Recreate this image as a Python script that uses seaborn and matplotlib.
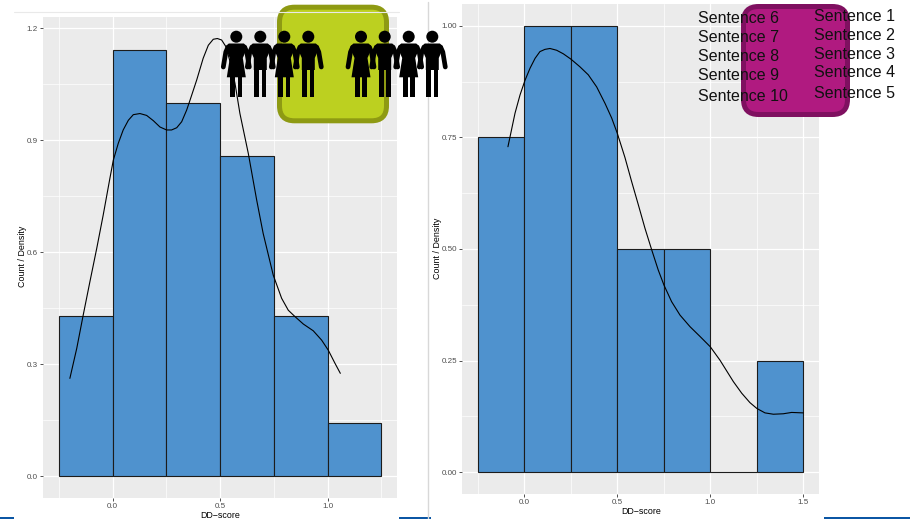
import matplotlib
matplotlib.use("Agg")
import matplotlib.pyplot as plt
from matplotlib.patches import Circle, FancyBboxPatch, Polygon, Rectangle
from matplotlib.ticker import MultipleLocator
import seaborn as sns

W, H = 910, 519

# left panel
left_edges = [-0.25, 0.0, 0.25, 0.5, 0.75, 1.0, 1.25]
left_heights = [0.4286, 1.1429, 1.0, 0.8571, 0.4286, 0.1429]
left_curve_x = [-0.199, -0.167, -0.137, -0.106, -0.074, -0.044, -0.013, 0.003, 0.026, 0.049, 0.073,
                0.096, 0.127, 0.158, 0.189, 0.220, 0.251, 0.274, 0.298, 0.321, 0.344, 0.360, 0.391,
                0.421, 0.445, 0.468, 0.487, 0.507, 0.527, 0.548, 0.569, 0.592, 0.631, 0.670, 0.700,
                0.747, 0.786, 0.817, 0.848, 0.887, 0.933, 0.972, 1.003, 1.034, 1.059]
left_curve_y = [0.2625, 0.343, 0.432, 0.521, 0.611, 0.700, 0.798, 0.847, 0.892, 0.928, 0.954,
                0.969, 0.972, 0.967, 0.953, 0.936, 0.928, 0.928, 0.934, 0.950, 0.981, 1.008, 1.062,
                1.120, 1.155, 1.171, 1.173, 1.169, 1.151, 1.107, 1.053, 0.972, 0.865, 0.740, 0.651,
                0.539, 0.477, 0.445, 0.428, 0.408, 0.390, 0.365, 0.338, 0.303, 0.276]

# right panel
right_edges = [-0.25, 0.0, 0.25, 0.5, 0.75, 1.0, 1.25, 1.5]
right_heights = [0.75, 1.0, 1.0, 0.5, 0.5, 0.0, 0.25]
right_curve_x = [-0.088, -0.050, -0.023, 0.004, 0.031, 0.058, 0.084, 0.111, 0.138, 0.174, 0.210,
                 0.251, 0.299, 0.344, 0.389, 0.434, 0.470, 0.500, 0.541, 0.577, 0.613, 0.649, 0.685,
                 0.720, 0.751, 0.792, 0.837, 0.891, 0.945, 1.0, 1.052, 1.079, 1.124, 1.169, 1.213,
                 1.25, 1.294, 1.339, 1.392, 1.437, 1.5]
right_curve_y = [0.729, 0.804, 0.845, 0.878, 0.905, 0.927, 0.942, 0.947, 0.949, 0.945, 0.937,
                 0.925, 0.908, 0.890, 0.863, 0.826, 0.793, 0.759, 0.705, 0.651, 0.599, 0.546, 0.498,
                 0.453, 0.419, 0.382, 0.352, 0.326, 0.304, 0.281, 0.251, 0.233, 0.203, 0.177, 0.156,
                 0.143, 0.133, 0.130, 0.131, 0.134, 0.133]

sentences_right_col = ["Sentence 1", "Sentence 2", "Sentence 3", "Sentence 4", "Sentence 5"]
sentences_left_col = ["Sentence 6", "Sentence 7", "Sentence 8", "Sentence 9", "Sentence 10"]
sentences_right_y = [16.7, 35.7, 54.3, 72.7, 93.7]
sentences_left_y = [18.3, 37.7, 56.7, 75.3, 96.7]

people_x = [236.3, 260.3, 284.3, 308.3, 361, 384.7, 408.7, 432.3]

sns.set_theme(style="darkgrid", rc={"axes.facecolor": "#EBEBEB", "grid.color": "white"})
plt.rcParams["font.family"] = ["Liberation Sans", "DejaVu Sans"]

fig = plt.figure(figsize=(W / 100, H / 100), dpi=100, facecolor="white")


def panel(box):
    x0, y0, x1, y1 = box
    return fig.add_axes([x0 / W, 1 - y1 / H, (x1 - x0) / W, (y1 - y0) / H])


def draw_hist(ax, edges, heights, cx, cy, xlim, ylim, yticks, ylabels, minor):
    centers = [(a + b) / 2 for a, b in zip(edges[:-1], edges[1:])]
    sns.histplot(x=centers, weights=heights, bins=edges, ax=ax, color="#4F92CE",
                 edgecolor="#1c1c1c", linewidth=0.8, alpha=1)
    sns.lineplot(x=cx, y=cy, ax=ax, color="black", linewidth=0.8, sort=False, estimator=None)
    ax.set_xlim(*xlim)
    ax.set_ylim(*ylim)
    ax.set_yticks(yticks)
    ax.set_yticklabels(ylabels)
    ax.xaxis.set_minor_locator(MultipleLocator(0.25))
    ax.yaxis.set_minor_locator(MultipleLocator(minor))
    ax.set_axisbelow(True)
    ax.grid(True, which="major", color="white", linewidth=0.9)
    ax.grid(True, which="minor", color="white", linewidth=0.5)
    ax.tick_params(which="major", length=2, width=0.6, color="#333333", labelsize=5.8,
                   labelcolor="#4D4D4D", pad=1.5, bottom=True, left=True)
    ax.tick_params(which="minor", length=0)
    for s in ax.spines.values():
        s.set_visible(False)
    ax.set_xlabel("")
    ax.set_ylabel("")


ax1 = panel((43, 16.5, 397.3, 498))
draw_hist(ax1, left_edges, left_heights, left_curve_x, left_curve_y,
          (-0.324, 1.324), (-0.058, 1.232), [0, 0.3, 0.6, 0.9, 1.2],
          ["0.0", "0.3", "0.6", "0.9", "1.2"], 0.15)
ax1.set_xticks([0, 0.5, 1.0])
ax1.set_xticklabels(["0.0", "0.5", "1.0"])

ax2 = panel((462, 4, 819.3, 494.3))
draw_hist(ax2, right_edges, right_heights, right_curve_x, right_curve_y,
          (-0.335, 1.586), (-0.0493, 1.0486), [0, 0.25, 0.5, 0.75, 1.0],
          ["0.00", "0.25", "0.50", "0.75", "1.00"], 0.125)
ax2.set_xticks([0, 0.5, 1.0, 1.5])
ax2.set_xticklabels(["0.0", "0.5", "1.0", "1.5"])

# overlay in pixel coordinates for the slide decorations
ov = fig.add_axes([0, 0, 1, 1], facecolor="none")
ov.set_xlim(0, W)
ov.set_ylim(H, 0)
ov.axis("off")

ov.plot([14, 399], [12.3, 12.3], color="#E9E9E9", lw=0.8)
ov.plot([428, 428], [2, H], color="#D8D8D8", lw=1)
for a, b in [(0, 14), (399, 431), (824, 910)]:
    ov.add_patch(Rectangle((a, 516.7), b - a, 2.3, color="#0B56A4", lw=0))

# axis titles
ov.text(22.5, 256.5, "Count / Density", rotation=90, ha="center", va="center", fontsize=6.4, color="black")
ov.text(220, 515, "DD\u2212score", ha="center", va="center", fontsize=6.4, color="black")
ov.text(437.5, 248.5, "Count / Density", rotation=90, ha="center", va="center", fontsize=6.4, color="black")
ov.text(640.7, 511.7, "DD\u2212score", ha="center", va="center", fontsize=6.4, color="black")

# rounded boxes
ov.add_patch(FancyBboxPatch((279.5, 7.2), 107, 113.6, boxstyle="round,pad=0,rounding_size=15",
                            facecolor="#BCD020", edgecolor="#8E9A13", linewidth=3.6))
ov.add_patch(FancyBboxPatch((743.5, 6.5), 104, 108, boxstyle="round,pad=0,rounding_size=15",
                            facecolor="#B01A80", edgecolor="#7F1060", linewidth=3.6))


def person(cx, female):
    ov.add_patch(Circle((cx, 36.7), 6, color="black", lw=0, zorder=5))
    for side in (-1, 1):
        ov.plot([cx + side * 8.5, cx + side * 10.5, cx + side * 13], [47.5, 52, 67],
                color="black", lw=3.4, solid_capstyle="round", solid_joinstyle="round", zorder=5)
        ov.add_patch(Rectangle((cx + (1.2 if side > 0 else -6), 68), 4.8, 29.3, color="black", lw=0, zorder=5))
    if female:
        pts = [(-7.5, 43.5), (7.5, 43.5), (10.5, 46), (10, 50), (6.5, 58), (9.5, 77.3), (-9.5, 77.3), (-6.5, 58), (-10, 50), (-10.5, 46)]
    else:
        pts = [(-7.5, 43.5), (7.5, 43.5), (10.5, 46), (10, 50), (6.5, 58), (6.5, 70), (-6.5, 70), (-6.5, 58), (-10, 50), (-10.5, 46)]
    ov.add_patch(Polygon([(cx + a, b) for a, b in pts], closed=True, color="black", lw=0, zorder=5))


for i, px in enumerate(people_x):
    person(px, i % 2 == 0)

for label, y in zip(sentences_left_col, sentences_left_y):
    ov.text(698.3, y, label, ha="left", va="center", fontsize=11.5, color="#111111", zorder=6)
for label, y in zip(sentences_right_col, sentences_right_y):
    ov.text(814, y, label, ha="left", va="center", fontsize=11.5, color="#111111", zorder=6)

fig.savefig("out.png", dpi=100)
